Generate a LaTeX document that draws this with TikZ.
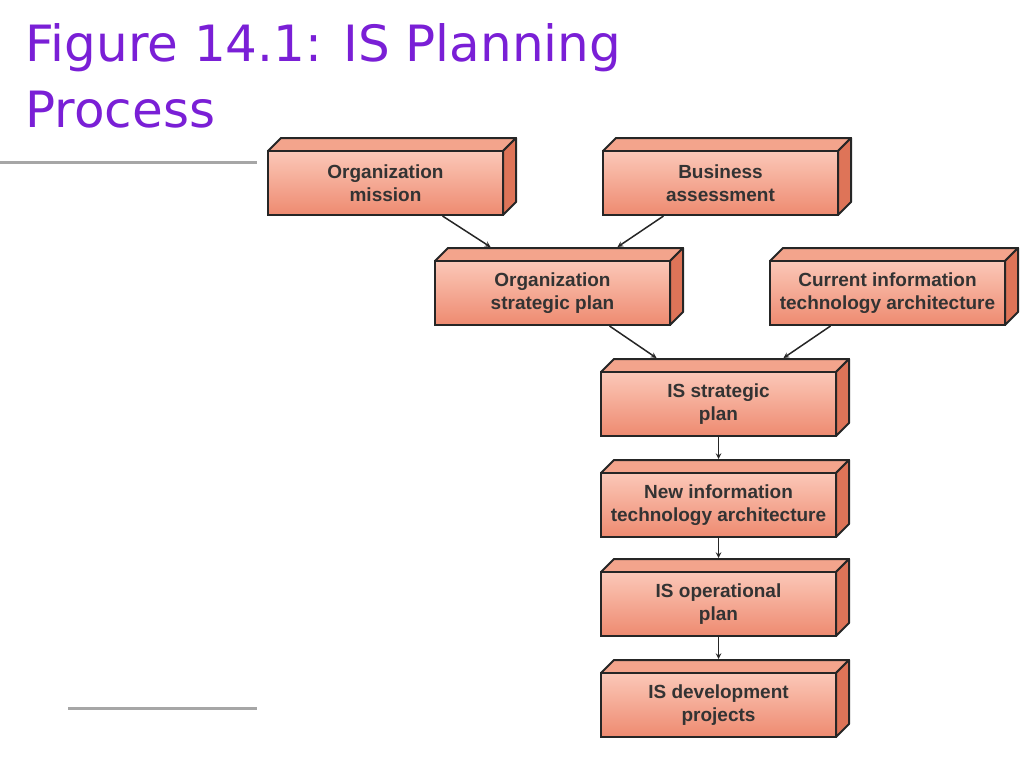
\documentclass[tikz,border=0pt]{standalone}
\usepackage{fontspec}
\setmainfont{Liberation Sans}
\newfontfamily\titlefont{DejaVu Sans}
\definecolor{titlepurple}{HTML}{7A1FD6}
\definecolor{boxtop}{HTML}{FBC8B8}
\definecolor{boxbot}{HTML}{EE8A70}
\definecolor{boxlid}{HTML}{F3A48C}
\definecolor{boxside}{HTML}{DE7458}
\begin{document}
\begin{tikzpicture}[x=1pt,y=-1pt,
        blk/.style={draw=black!85,line width=2pt,top color=boxtop,bottom color=boxbot,
            minimum width=235pt,minimum height=64pt,inner sep=2pt,align=center,
            text=black!80,font=\fontsize{19}{23}\selectfont\bfseries},
        arr/.style={->,>=stealth,line width=1.5pt,black!85}]
\useasboundingbox (0,0) rectangle (1024,768);

\node[anchor=north west,text=titlepurple,font=\titlefont\fontsize{50}{66}\selectfont,align=left]
    at (22,20) {Figure 14.1: IS Planning\\Process};
\draw[gray!70,line width=3pt] (0,162) -- (257,162);
\draw[gray!70,line width=3pt] (68,708) -- (257,708);

% boxes: lid and side first, then front face
\foreach \nm/\cx/\cy/\txt in {
    mis/385.5/183/{Organization\\mission},
    bus/720.5/183/{Business\\assessment},
    osp/552.5/293/{Organization\\strategic plan},
    cit/887.5/293/{Current information\\technology architecture},
    isp/718.5/404/{IS strategic\\plan},
    nit/718.5/505/{New information\\technology architecture},
    iop/718.5/604/{IS operational\\plan},
    idp/718.5/705/{IS development\\projects}} {
  \fill[boxlid,draw=black!85,line width=2pt,line join=round]
      (\cx-117.5,\cy-32) -- ++(13,-13) -- ++(235,0) -- ++(-13,13) -- cycle;
  \fill[boxside,draw=black!85,line width=2pt,line join=round]
      (\cx+117.5,\cy-32) -- ++(13,-13) -- ++(0,64) -- ++(-13,13) -- cycle;
  \node[blk] (\nm) at (\cx,\cy) {\txt};
}

\draw[arr] ([xshift=57pt]mis.south) -- ([xshift=-62pt,yshift=13pt]osp.north);
\draw[arr] ([xshift=-57pt]bus.south) -- ([xshift=65pt,yshift=13pt]osp.north);
\draw[arr] ([xshift=57pt]osp.south) -- ([xshift=-62pt,yshift=13pt]isp.north);
\draw[arr] ([xshift=-57pt]cit.south) -- ([xshift=65pt,yshift=13pt]isp.north);
\draw[arr] (isp.south) -- ([yshift=13pt]nit.north);
\draw[arr] (nit.south) -- ([yshift=13pt]iop.north);
\draw[arr] (iop.south) -- ([yshift=13pt]idp.north);
\end{tikzpicture}
\end{document}
